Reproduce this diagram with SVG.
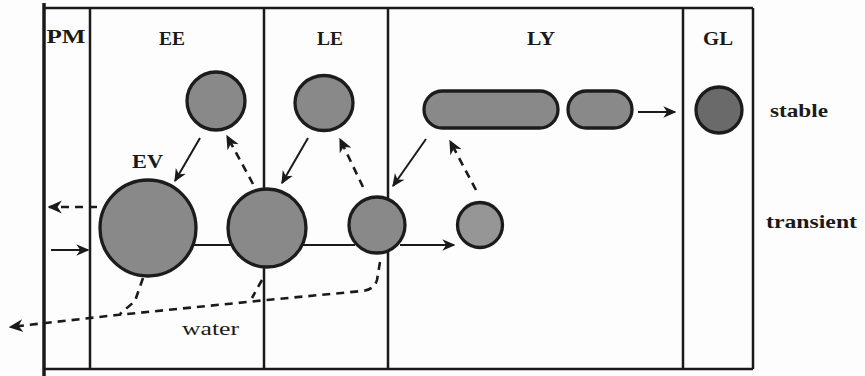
<svg xmlns="http://www.w3.org/2000/svg" width="865" height="376" viewBox="0 0 865 376">
  <defs>
    <marker id="head" viewBox="0 0 10 10" refX="9" refY="5" markerWidth="6.5" markerHeight="6.5" orient="auto" markerUnits="strokeWidth">
      <path d="M0,0.5 L10,5 L0,9.5 L3,5 Z" fill="#1a1a1a"/>
    </marker>
    <marker id="headOpen" viewBox="0 0 10 10" refX="9" refY="5" markerWidth="5.5" markerHeight="5.5" orient="auto" markerUnits="strokeWidth">
      <path d="M0,0.5 L10,5 L0,9.5 L3,5 Z" fill="#1a1a1a"/>
    </marker>
  </defs>
  <style>
    .frame { fill: none; stroke: #1a1a1a; stroke-width: 2.5; }
    .body { fill: #898989; stroke: #1c1c1c; stroke-width: 3.3; }
    .dark { fill: #6a6a6a; }
    .light { fill: #969696; }
    .solid { fill: none; stroke: #1a1a1a; stroke-width: 2; }
    .dash { fill: none; stroke: #1a1a1a; stroke-width: 2.6; stroke-dasharray: 8 6; }
    .lbl { font-family: "Liberation Serif", "DejaVu Serif", serif; font-weight: bold; font-size: 19px; fill: #1a1a1a; }
    .water { font-family: "Liberation Serif", "DejaVu Serif", serif; font-size: 19px; fill: #1a1a1a; }
  </style>
  <rect width="865" height="376" fill="#fdfdfd"/>

  <!-- compartment frame -->
  <g id="frame">
    <line x1="44" y1="3" x2="44" y2="376" stroke="#1a1a1a" stroke-width="3.5"/>
    <line x1="44" y1="8" x2="753" y2="8" class="frame"/>
    <line x1="44" y1="369" x2="753" y2="369" class="frame"/>
    <line x1="753" y1="8" x2="753" y2="369" class="frame"/>
    <line x1="90" y1="8" x2="90" y2="369" class="frame"/>
    <line x1="264" y1="8" x2="264" y2="369" class="frame"/>
    <line x1="388" y1="8" x2="388" y2="369" class="frame"/>
    <line x1="683" y1="8" x2="683" y2="369" class="frame"/>
  </g>

  <!-- compartment labels -->
  <g id="labels">
    <text class="lbl" x="66" y="43" text-anchor="middle" textLength="39" lengthAdjust="spacingAndGlyphs">PM</text>
    <text class="lbl" x="172" y="45" text-anchor="middle" textLength="26" lengthAdjust="spacingAndGlyphs">EE</text>
    <text class="lbl" x="330" y="45" text-anchor="middle" textLength="26" lengthAdjust="spacingAndGlyphs">LE</text>
    <text class="lbl" x="541" y="45" text-anchor="middle" textLength="28" lengthAdjust="spacingAndGlyphs">LY</text>
    <text class="lbl" x="718" y="45" text-anchor="middle" textLength="30" lengthAdjust="spacingAndGlyphs">GL</text>
    <text class="lbl" x="770" y="117" textLength="58" lengthAdjust="spacingAndGlyphs">stable</text>
    <text class="lbl" x="766" y="228" textLength="91" lengthAdjust="spacingAndGlyphs">transient</text>
    <text class="lbl" x="132" y="168" font-size="20" textLength="31" lengthAdjust="spacingAndGlyphs">EV</text>
    <text class="water" x="182" y="335" textLength="57" lengthAdjust="spacingAndGlyphs">water</text>
  </g>

  <!-- connectors -->
  <g id="connectors">
    <!-- transient chain -->
    <line x1="190" y1="245" x2="235" y2="245" class="solid" stroke-width="2.5"/>
    <line x1="300" y1="245" x2="355" y2="245" class="solid" stroke-width="2.5"/>
    <line x1="400" y1="245" x2="454" y2="245" class="solid" stroke-width="2.2" marker-end="url(#head)"/>
    <!-- PM exchange -->
    <line x1="97" y1="207" x2="49" y2="207" class="dash" stroke-width="2.2" marker-end="url(#headOpen)"/>
    <line x1="51" y1="250" x2="88" y2="250" class="solid" stroke-width="2.2" marker-end="url(#head)"/>
    <!-- stable to transient -->
    <line x1="200" y1="138" x2="175" y2="181" class="solid" marker-end="url(#head)"/>
    <line x1="308" y1="138" x2="282" y2="183" class="solid" marker-end="url(#head)"/>
    <line x1="426" y1="139" x2="393" y2="186" class="solid" marker-end="url(#head)"/>
    <!-- transient to stable -->
    <line x1="253" y1="184" x2="227" y2="136" class="dash" stroke-width="2.2" marker-end="url(#headOpen)"/>
    <line x1="363" y1="187" x2="340" y2="139" class="dash" stroke-width="2.2" marker-end="url(#headOpen)"/>
    <line x1="476" y1="190" x2="450" y2="141" class="dash" stroke-width="2.2" marker-end="url(#headOpen)"/>
    <!-- pill to GL -->
    <line x1="638" y1="112" x2="675" y2="112" class="solid" stroke-width="1.8" marker-end="url(#head)"/>
    <!-- water efflux -->
    <path d="M380,262 L377,280 Q374,290 362,291 L267,300 L117,315 L10,327" class="dash" stroke-width="2.4" marker-end="url(#headOpen)"/>
    <path d="M143,278 L135,301 L120,314" class="dash" stroke-width="2.4"/>
    <path d="M262,280 L252,298" class="dash" stroke-width="2.4"/>
  </g>

  <!-- EE compartment -->
  <g id="ee-stable">
    <circle cx="216" cy="101" r="29" class="body"/>
  </g>
  <g id="ev">
    <circle cx="148" cy="228" r="48" class="body"/>
  </g>
  <g id="ee-transient">
    <circle cx="267" cy="228" r="39" class="body"/>
  </g>

  <!-- LE compartment -->
  <g id="le-stable">
    <ellipse cx="324" cy="103" rx="29" ry="27.5" class="body"/>
  </g>
  <g id="le-transient">
    <circle cx="377" cy="225" r="28" class="body"/>
  </g>

  <!-- LY compartment -->
  <g id="ly-stable-long">
    <rect x="424" y="91" width="134" height="37" rx="18.5" class="body"/>
  </g>
  <g id="ly-stable-short">
    <rect x="568" y="91" width="64" height="37" rx="18.5" class="body"/>
  </g>
  <g id="ly-transient">
    <circle cx="480" cy="225" r="22.5" class="body light"/>
  </g>

  <!-- GL compartment -->
  <g id="gl-stable">
    <circle cx="719" cy="110" r="23" class="body dark"/>
  </g>
</svg>
